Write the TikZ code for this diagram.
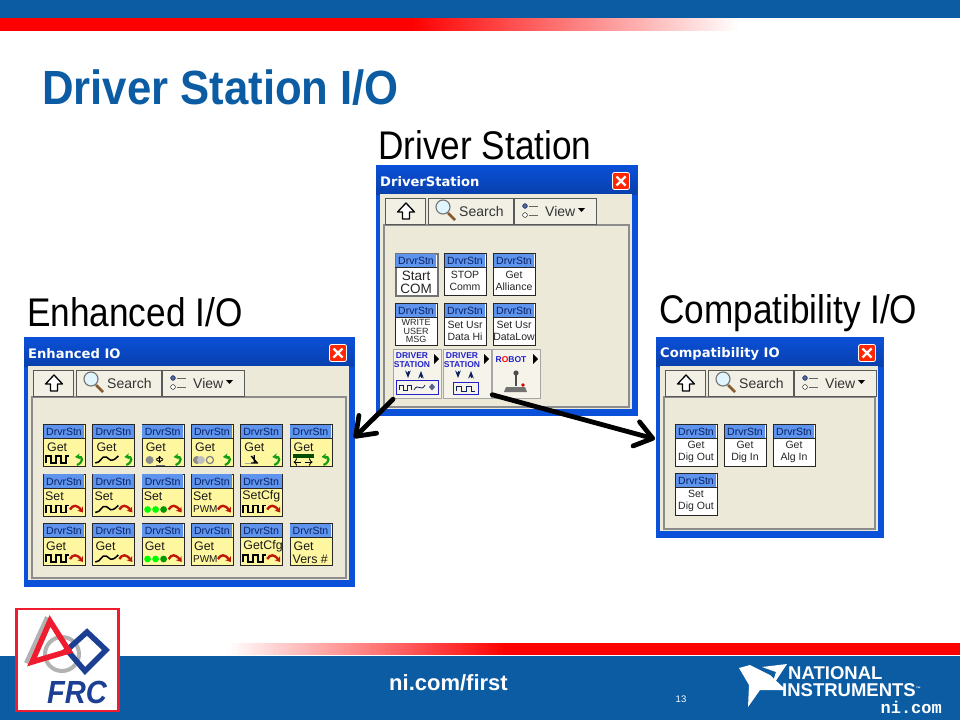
\documentclass[tikz,border=0pt]{standalone}
\usepackage{fontspec}
\usetikzlibrary{arrows.meta}
\setmainfont{Liberation Sans}
\newfontfamily\headfont[FakeStretch=0.88]{Liberation Sans}
\newfontfamily\slidefont[FakeStretch=0.91]{Liberation Sans}
\newfontfamily\barfont{DejaVu Sans}
\newfontfamily\comfont{Liberation Mono}
\definecolor{niblue}{HTML}{0B5CA3}
\definecolor{winblue}{HTML}{0A50D8}
\definecolor{winbeige}{HTML}{ECE9D8}
\definecolor{headblue}{HTML}{5E93EE}
\definecolor{iconyellow}{HTML}{FFF6A0}
\definecolor{navyink}{HTML}{0A2260}
\definecolor{purpink}{HTML}{2222C8}
\definecolor{hookgreen}{HTML}{12A012}
\definecolor{arrred}{HTML}{C01808}
\definecolor{frcblue}{HTML}{1C3F94}
\definecolor{frcred}{HTML}{EE1C2E}

\tikzset{
  winframe/.style={draw=winblue,fill=winblue,line width=1pt,anchor=north west,inner sep=0pt},
  toolbtn/.style={draw=black!65,line width=1.2pt,fill=winbeige!70!white,minimum height=26pt,inner sep=0pt,anchor=north west},
  iconbody/.style={draw=black!85,line width=1.1pt,minimum width=42pt,minimum height=42pt,inner sep=0pt,anchor=north west},
  iconhead/.style={font=\fontsize{10.5}{10.5}\selectfont,text=navyink,inner sep=0pt},
  iconlbl/.style={font=\fontsize{12.4}{12.4}\selectfont,text=black!90,inner sep=0pt,anchor=west},
  iconmid/.style={font=\fontsize{10.5}{12.5}\selectfont,text=black!85,inner sep=0pt,align=center},
  subpal/.style={draw=black!35,line width=1.2pt,fill=winbeige!55!white,minimum width=48pt,minimum height=49pt,inner sep=0pt,anchor=north west},
  subtext/.style={font=\fontsize{8.5}{9}\bfseries\selectfont,text=purpink,inner sep=0pt,align=center},
  wavepen/.style={draw=black,line width=1.5pt},
  bigarrow/.style={draw=black,line width=4.8pt,-{Straight Barb[length=17pt,width=25pt,line width=4.8pt,round]},line cap=round},
  heading/.style={font=\headfont\fontsize{40}{40}\selectfont,inner sep=0pt,anchor=west}
}

% little drawings inside the icons, in icon coordinates
\newcommand{\sqw}{\draw[wavepen] (3,39)--(3,32)--(8,32)--(8,39)--(13,39)--(13,32)--(18,32)--(18,39)--(23,39)--(23,32)--(26,32);}
\newcommand{\sinw}{\draw[wavepen] (3,39) .. controls (9,39) and (9,31) .. (14,33) .. controls (18,35) and (18,40) .. (26,32);}
\newcommand{\hookarr}{\draw[hookgreen,line width=2.2pt,-{Stealth[length=5pt,width=6pt]}] (34,41) .. controls (41,38) and (40,32) .. (32,33);}
\newcommand{\redarr}{\draw[arrred,line width=2.4pt,-{Stealth[length=5pt,width=7pt]}] (27,36) .. controls (30,31) and (34,31) .. (40,39);}
\newcommand{\gdots}{\foreach \dx/\dc in {6/green,14/green,22/green!60!black}{\fill[\dc] (\dx,36) circle (3.4pt);}}
\newcommand{\pwmtxt}{\node[iconlbl,font=\fontsize{10}{10}\selectfont] at (2,36) {PWM};}
\newcommand{\greyrotor}{\fill[black!45] (8,36) circle (4pt);\draw[black,line width=.9pt,<->] (18,32)--(18,39);\draw[black!60] (14,41)--(23,41);}
\newcommand{\greyspin}{\fill[black!45] (6,36) circle (4pt);\fill[black!25] (10,36) circle (4pt);\draw[black!50,line width=1.2pt] (19,36) circle (3.6pt);}
\newcommand{\axisgl}{\draw[black,line width=1.4pt] (11,32)--(17,39)(11,39)--(18,39)(14,31)--(14,39);\draw[black!35] (5,39)--(11,39);}
\newcommand{\encgl}{\fill[black!70!green] (3,30) rectangle (24,34);\draw[black,line width=.9pt,<-] (4,38)--(11,38);\draw[black,line width=.9pt,->] (15,38)--(23,38);}

% one icon: name, position, fill colour, inside
\newcommand{\drvicon}[4]{%
  \node[iconbody,fill=#3] (#1) at (#2) {};
  \begin{scope}[shift={(#1.north west)}]
    \fill[headblue] (.6,.6) rectangle (41.4,14.5);
    \draw[black!85,line width=.7pt] (0,14.5)--(42,14.5);
    \node[iconhead] at (21,8) {DrvrStn};
    #4
  \end{scope}}

% one palette window: name, corner, width, height, title
\newcommand{\palwin}[5]{%
  \node[winframe,minimum width=#3pt,minimum height=#4pt] (#1) at (#2) {};
  \begin{scope}[shift={(#1.north west)}]
    \shade[top color=winblue,bottom color=winblue!80!black] (0,0) rectangle (#3,29);
    \node[font=\barfont\fontsize{13.1}{13.1}\bfseries\selectfont,text=white,inner sep=0pt,anchor=west] (#1title) at (4,17) {#5};
    \fill[winbeige] (4,29) rectangle (#3-5,#4-6);
    \draw[black!45,line width=1.2pt] (8,60) rectangle (#3-8,#4-8);
    \node[draw=white,line width=.8pt,rounded corners=2pt,fill=red!70!orange,minimum size=17pt,inner sep=0pt] (#1close) at (#3-16,16) {};
    \draw[white,line width=2.2pt] (#3-20.5,11.5)--(#3-11.5,20.5) (#3-20.5,20.5)--(#3-11.5,11.5);
    \node[toolbtn,minimum width=40pt] (#1up) at (9,33) {};
    \node[toolbtn,minimum width=85pt] (#1search) at (52,33) {};
    \node[toolbtn,minimum width=82pt] (#1view) at (138,33) {};
    \draw[black,fill=white,line width=1.3pt,line join=round] (30,38)--(38.5,47)--(33.5,47)--(33.5,54)--(26.5,54)--(26.5,47)--(21.5,47)--cycle;
    \draw[brown!70!black,line width=2.6pt] (72,48)--(79,55);
    \draw[black!55,fill=cyan!12,line width=1.1pt] (67,42) circle (7pt);
    \node[font=\fontsize{14}{14}\selectfont,text=black!80,inner sep=0pt,anchor=west] at (83,46) {Search};
    \draw[navyink,fill=navyink!70] (149,41) circle (2.4pt);
    \draw[black,fill=white] (149,50) circle (2.4pt);
    \draw[black!60] (153,41)--(162,41) (153,50)--(162,50);
    \node[font=\fontsize{14}{14}\selectfont,text=black!80,inner sep=0pt,anchor=west] at (169,46) {View};
    \fill[black] (202,43)--(209,43)--(205.5,47)--cycle;
  \end{scope}}

% the grey sub palette buttons
\newcommand{\subicon}[4]{%
  \node[subpal] (#1) at (#2) {};
  \begin{scope}[shift={(#1.north west)}]
    \node[subtext] at (19,11) {#3};
    \fill[black] (41,5)--(46,10)--(41,15)--cycle;
    #4
  \end{scope}}
\newcommand{\updown}{\draw[navyink,line width=1pt,->,>=Stealth] (15,22)--(15,29);\draw[navyink,line width=1pt,->,>=Stealth] (28,29)--(28,22);}

\begin{document}
\begin{tikzpicture}[x=1pt,y=-1pt]
  \useasboundingbox (0,0) rectangle (960,720);

  % slide bands
  \fill[niblue] (0,0) rectangle (960,18);
  \fill[red] (0,18) rectangle (410,31);
  \foreach \s in {0,...,82}{
    \pgfmathsetmacro{\pct}{100-\s*100/82}
    \fill[red!\pct!white] ({410+\s*4},18) rectangle (740,31);}
  \fill[niblue] (0,656) rectangle (960,720);
  \foreach \s in {0,...,80}{
    \pgfmathsetmacro{\pct}{\s*100/80}
    \fill[red!\pct!white] ({225+\s*3.5},643) rectangle (960,655);}

  \node[font=\slidefont\fontsize{48}{48}\bfseries\selectfont,text=niblue,inner sep=0pt,anchor=west] (slidetitle) at (42,88) {Driver Station I/O};
  \node[heading] (dshead) at (378,145) {Driver Station};
  \node[heading] (enhead) at (27,312) {Enhanced I/O};
  \node[heading] (cphead) at (659,313) {Compatibility I/O};

  \palwin{drv}{376,165}{261}{250}{DriverStation}
  \palwin{enh}{24,337}{330}{249}{Enhanced IO}
  \palwin{cmp}{656,337}{227}{200}{Compatibility IO}

  % driver station icons
  \drvicon{dsstart}{395,253}{white,draw=black!55,line width=1.8pt}{\node[iconmid,font=\fontsize{13.5}{13}\selectfont] at (21,29) {Start\\COM};}
  \drvicon{dsstop}{444,253}{white}{\node[iconmid] at (21,28) {STOP\\Comm};}
  \drvicon{dsget}{493,253}{white}{\node[iconmid] at (21,28) {Get\\Alliance};}
  \drvicon{dswrite}{395,303}{white}{\node[iconmid,font=\fontsize{9}{8.5}\selectfont] at (21,28) {WRITE\\USER\\MSG};}
  \drvicon{dshi}{444,303}{white}{\node[iconmid] at (21,28) {Set Usr\\Data Hi};}
  \drvicon{dslow}{493,303}{white}{\node[iconmid] at (21,28) {Set Usr\\DataLow};}
  \subicon{dsa}{393,349}{DRIVER\\STATION}{\updown
    \draw[purpink,line width=1pt] (3,31) rectangle (45,45);
    \draw[navyink,line width=.8pt] (6,41)--(6,36)--(10,36)--(10,41)--(14,41)--(14,36)--(18,36)--(18,41);
    \draw[navyink,line width=.8pt] (21,41) .. controls (25,33) and (28,44) .. (32,36);
    \fill[navyink!70] (39,34.5)--(42,38)--(39,41.5)--(36,38)--cycle;}
  \subicon{dsb}{443,349}{DRIVER\\STATION}{\updown
    \draw[purpink,line width=1pt] (10,33) rectangle (35,45);
    \draw[navyink,line width=.8pt] (13,42)--(13,37)--(18,37)--(18,42)--(23,42)--(23,37)--(28,37)--(28,42)--(32,42);}
  \subicon{dsrobot}{492,349}{\textcolor{purpink}{R}\textcolor{red}{O}\textcolor{purpink}{BOT}}{
    \fill[black!55] (14,38)--(33,38)--(35,43)--(12,43)--cycle;
    \draw[black!70,line width=2.2pt] (24,37)--(24,26);
    \fill[black!70] (24,24) circle (2.6pt);
    \fill[red!80!black] (31,36) circle (1.8pt);}

  % enhanced io icons
  \foreach \c/\lbl/\gly in {0/Get/\sqw\hookarr,1/Get/\sinw\hookarr,2/Get/\greyrotor\hookarr,3/Get/\greyspin\hookarr,4/Get/\axisgl\hookarr,5/Get/\encgl\hookarr}{
    \drvicon{enget\c}{{43+49.3*\c},424}{iconyellow}{\node[iconlbl] at (4,23) {\lbl};\gly}}
  \foreach \c/\lbl/\gly in {0/Set/\sqw\redarr,1/Set/\sinw\redarr,2/Set/\gdots\redarr,3/Set/\pwmtxt\redarr,4/SetCfg/\sqw\redarr}{
    \drvicon{enset\c}{{43+49.3*\c},473.5}{iconyellow}{\node[iconlbl] at (2,23) {\lbl};\gly}}
  \foreach \c/\lbl/\gly in {0/Get/\sqw\redarr,1/Get/\sinw\redarr,2/Get/\gdots\redarr,3/Get/\pwmtxt\redarr,4/GetCfg/\sqw\redarr}{
    \drvicon{enout\c}{{43+49.3*\c},523}{iconyellow}{\node[iconlbl] at (3,23) {\lbl};\gly}}
  \drvicon{enout5}{289.5,523}{iconyellow}{\node[iconlbl] at (4,23) {Get};
    \node[iconlbl] at (3,36) {Vers \#};}

  % compatibility io icons
  \drvicon{cpa}{675,424}{white}{\node[iconmid] at (21,28) {Get\\Dig Out};}
  \drvicon{cpb}{724,424}{white}{\node[iconmid] at (21,28) {Get\\Dig In};}
  \drvicon{cpc}{773,424}{white}{\node[iconmid] at (21,28) {Get\\Alg In};}
  \drvicon{cpd}{675,473}{white}{\node[iconmid] at (21,28) {Set\\Dig Out};}

  \coordinate (enhin) at (354,438);
  \coordinate (cmpin) at (655,439);
  \draw[bigarrow] (dsa.south west) -- (enhin);
  \draw[bigarrow] (dsb.-40) -- (cmpin);

  % frc logo
  \node[draw=frcred,line width=2.6pt,fill=white,minimum width=102pt,minimum height=102pt,inner sep=0pt] (frcbox) at (67.5,660) {};
  \draw[black!30,line width=4pt] (62,654) circle (17pt);
  \draw[black!30,line width=4pt,line join=round] (47,617)--(26,663);
  \draw[frcblue,line width=5.5pt] (87,632)--(106,650)--(85,671)--(67,650)--cycle;
  \draw[frcred,line width=5.5pt,line join=miter] (50,621)--(32,662)--(69,651)--cycle;
  \node[font=\slidefont\fontsize{32}{32}\bfseries\itshape\selectfont,text=frcblue,inner sep=0pt] (frctext) at (77,692) {FRC};

  % footer
  \node[font=\fontsize{22}{22}\bfseries\selectfont,text=white,inner sep=0pt] (nifirst) at (448.5,683) {ni.com/first};
  \node[font=\fontsize{9.5}{9.5}\selectfont,text=white,inner sep=0pt] (pagenum) at (681,699) {13};
  \fill[white] (739,668)--(750,665)--(770,675)--(786,690)--(760,690)--(748,707)--(749,685)--cycle;
  \fill[white] (762,667)--(787,664)--(771,688)--(776,672)--cycle;
  \node[font=\fontsize{18.5}{18.5}\bfseries\selectfont,text=white,inner sep=0pt,anchor=west] (nitop) at (788,673.5) {NATIONAL};
  \node[font=\fontsize{18.5}{18.5}\bfseries\selectfont,text=white,inner sep=0pt,anchor=west] (nimid) at (782,690.5) {INSTRUMENTS\raisebox{6pt}{\fontsize{5}{5}\selectfont ™}};
  \node[font=\comfont\fontsize{17}{17}\bfseries\selectfont,text=white,inner sep=0pt,anchor=east] (nicom) at (942,707) {ni.com};
\end{tikzpicture}
\end{document}
